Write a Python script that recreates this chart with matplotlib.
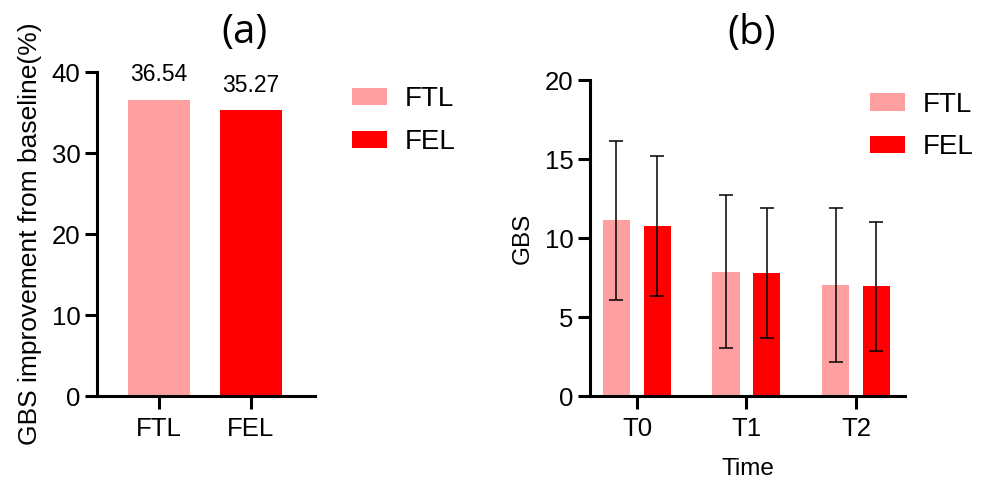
import matplotlib
matplotlib.use('Agg')
import matplotlib.pyplot as plt
import numpy as np

plt.rcParams['font.family'] = ['Liberation Sans', 'DejaVu Sans']

groups = ['FTL', 'FEL']
improvement = [36.54, 35.27]

times = ['T0', 'T1', 'T2']
ftl_mean = [11.13, 7.86, 7.01]
ftl_sd = [5.03, 4.84, 4.88]
fel_mean = [10.77, 7.81, 6.95]
fel_sd = [4.43, 4.12, 4.09]

pink = '#FFA0A0'
red = '#FF0000'
spine_w = 2.2
title_font = ['Open Sans', 'DejaVu Sans']


def style_axes(ax):
    for side in ['top', 'right']:
        ax.spines[side].set_visible(False)
    for side in ['left', 'bottom']:
        ax.spines[side].set_linewidth(spine_w)
    ax.tick_params(axis='both', width=spine_w, length=9, labelsize=18.5, pad=3)
    ax.tick_params(axis='x', pad=6)


fig = plt.figure(figsize=(9.81, 4.82), dpi=100)

# (a)
ax_a = fig.add_axes([0.0989, 0.1784, 0.2222, 0.672])
colours = [pink, red]
bars = ax_a.bar(range(len(groups)), improvement, width=0.674, color=colours, label=groups)
for i, v in enumerate(improvement):
    ax_a.annotate(f'{v:.2f}', (i, v), xytext=(0, 10), textcoords='offset points',
                  ha='center', va='bottom', fontsize=16.5)
ax_a.set_xlim(-0.674, 1.696)
ax_a.set_ylim(0, 40)
ax_a.set_yticks([0, 10, 20, 30, 40])
ax_a.set_xticks(range(len(groups)))
ax_a.set_xticklabels(groups)
ax_a.set_ylabel('GBS improvement from baseline(%)', fontsize=19, labelpad=7)
style_axes(ax_a)
fig.text(0.2497, 0.9315, '(a)', fontsize=29, family=title_font, ha='center', va='center')
ax_a.legend(handles=list(bars), labels=groups, loc='upper left',
            bbox_to_anchor=(1.12, 0.99), frameon=False, fontsize=20,
            handlelength=1.25, handleheight=0.6, handletextpad=0.65,
            labelspacing=0.6, borderaxespad=0)

# (b)
ax_b = fig.add_axes([0.6014, 0.1784, 0.3211, 0.6556])
x = np.arange(len(times))
off = 0.187
w = 0.247
err_kw = dict(ecolor='black', elinewidth=1.1, capsize=5, capthick=1.1)
ax_b.bar(x - off, ftl_mean, width=w, color=pink, yerr=ftl_sd, error_kw=err_kw, label='FTL')
ax_b.bar(x + off, fel_mean, width=w, color=red, yerr=fel_sd, error_kw=err_kw, label='FEL')
ax_b.set_xlim(-0.429, 2.447)
ax_b.set_ylim(0, 20)
ax_b.set_yticks([0, 5, 10, 15, 20])
ax_b.set_xticks(x)
ax_b.set_xticklabels(times)
ax_b.set_ylabel('GBS', fontsize=17.5, labelpad=8)
ax_b.set_xlabel('Time', fontsize=17.5, labelpad=12)
style_axes(ax_b)
fig.text(0.7665, 0.93, '(b)', fontsize=29, family=title_font, ha='center', va='center')
ax_b.legend(loc='upper left', bbox_to_anchor=(0.855, 0.998), frameon=False, fontsize=20,
            handlelength=1.25, handleheight=0.6, handletextpad=0.65,
            labelspacing=0.6, borderaxespad=0)

fig.savefig('out.png', dpi=100)
